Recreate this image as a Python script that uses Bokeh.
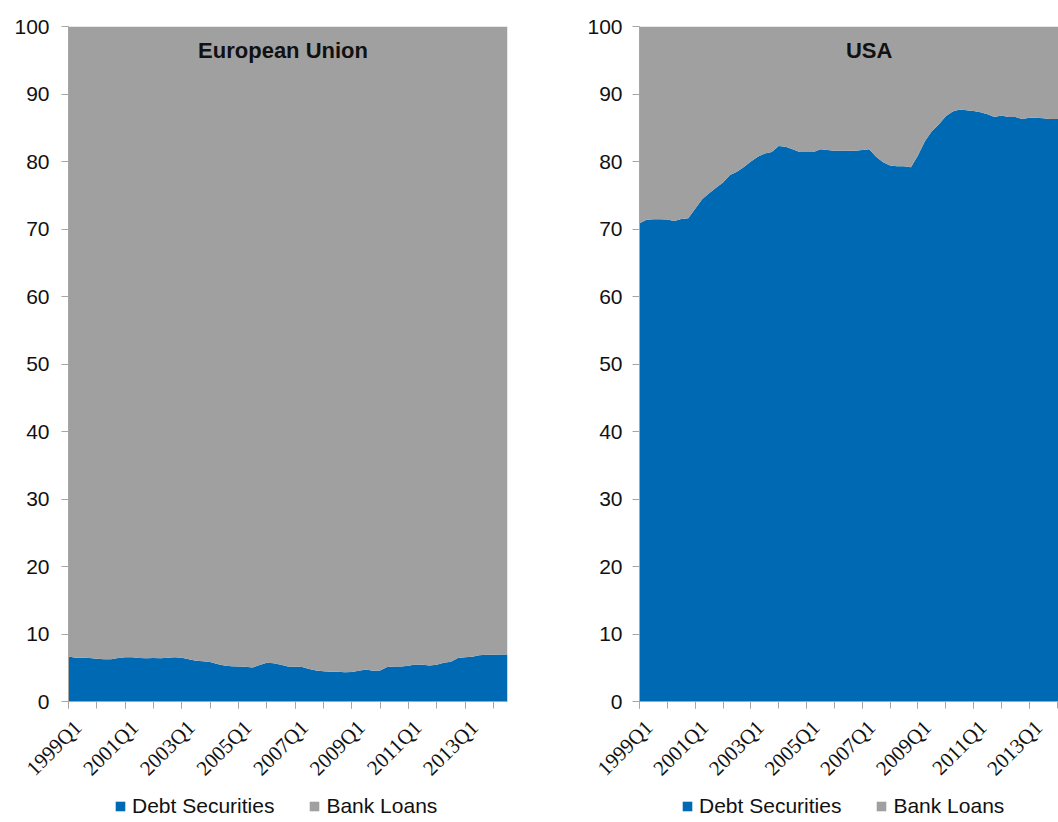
import math
from bokeh.plotting import figure
from bokeh.layouts import row, column
from bokeh.models import ColumnDataSource, FixedTicker, Label, Legend, LegendItem, Range1d
from bokeh.embed import file_html
from bokeh.resources import INLINE

# ---------------- data ----------------
quarters = [f"{y}Q{q}" for y in range(1999, 2015) for q in range(1, 5)][:63]  # 1999Q1 .. 2014Q3

eu_debt_securities = [
    6.67, 6.50, 6.47, 6.45, 6.35, 6.25, 6.27, 6.45, 6.57, 6.55,
    6.45, 6.42, 6.45, 6.42, 6.50, 6.57, 6.50, 6.25, 6.05, 5.95,
    5.85, 5.55, 5.35, 5.22, 5.20, 5.15, 5.04, 5.40, 5.73, 5.65,
    5.45, 5.20, 5.15, 5.12, 4.80, 4.60, 4.50, 4.42, 4.40, 4.35,
    4.37, 4.55, 4.75, 4.55, 4.60, 5.10, 5.20, 5.20, 5.30, 5.50,
    5.45, 5.33, 5.45, 5.73, 5.90, 6.45, 6.57, 6.62, 6.85, 6.93,
    6.93, 6.95, 6.96,
]
usa_debt_securities = [
    70.86, 71.36, 71.46, 71.45, 71.40, 71.20, 71.50, 71.60, 73.00, 74.40,
    75.30, 76.10, 76.90, 78.00, 78.50, 79.20, 80.00, 80.70, 81.20, 81.40,
    82.30, 82.20, 81.80, 81.40, 81.40, 81.40, 81.80, 81.70, 81.60, 81.60,
    81.60, 81.60, 81.70, 81.80, 80.70, 79.90, 79.40, 79.30, 79.30, 79.15,
    80.90, 83.00, 84.50, 85.50, 86.70, 87.40, 87.70, 87.60, 87.50, 87.30,
    87.00, 86.60, 86.80, 86.60, 86.60, 86.30, 86.50, 86.50, 86.40, 86.30,
    86.30, 86.30, 86.40,
]
eu_bank_loans = [100 - v for v in eu_debt_securities]
usa_bank_loans = [100 - v for v in usa_debt_securities]

tick_labels = ["1999Q1", "2001Q1", "2003Q1", "2005Q1", "2007Q1", "2009Q1", "2011Q1", "2013Q1"]
series_names = ["Debt Securities", "Bank Loans"]
titles = ["European Union", "USA"]

BLUE = "#0069B4"
GRAY = "#A0A0A0"
AXIS = "#A6A6A6"
TXT = "#111111"
FONT = "Liberation Sans"

TOP = 26          # frame top (page px)
FRAME_H = 675
BOTTOM_MAIN = 12  # space under the frame in the main figure (tick marks, "0" label)
PAGE_H = 822


def make_panel(title, debt, loans, x_end, frame_w, border_left, border_right,
               title_x, ylab_standoff, legend_x):
    idx = list(range(len(debt)))
    src = ColumnDataSource(dict(x=idx, debt=debt, loans=loans))
    p = figure(frame_width=frame_w, frame_height=FRAME_H, output_backend="svg",
               toolbar_location=None, x_range=Range1d(0, x_end), y_range=Range1d(0, 100),
               min_border_left=border_left, min_border_right=border_right,
               min_border_top=TOP, min_border_bottom=BOTTOM_MAIN)
    rs = p.varea_stack(["debt", "loans"], x="x", source=src, color=[BLUE, GRAY])
    p.xgrid.visible = False
    p.ygrid.visible = False
    p.outline_line_color = None
    p.background_fill_color = "white"
    p.border_fill_color = "white"

    label_pos = [quarters.index(t) for t in tick_labels]
    p.xaxis.ticker = FixedTicker(ticks=label_pos, minor_ticks=list(range(0, len(debt), 4)))
    p.xaxis.major_label_overrides = {i: "" for i in label_pos}
    p.xaxis.major_label_text_font_size = "0px"
    p.xaxis.major_label_standoff = 0
    p.yaxis.ticker = FixedTicker(ticks=list(range(0, 101, 10)), minor_ticks=[])
    for ax in (p.xaxis[0], p.yaxis[0]):
        ax.axis_line_color = AXIS
        ax.major_tick_line_color = AXIS
        ax.minor_tick_line_color = AXIS
        ax.major_tick_out = 7
        ax.major_tick_in = 0
        ax.minor_tick_out = 7
        ax.minor_tick_in = 0
    p.yaxis.major_label_text_font = FONT
    p.yaxis.major_label_text_font_size = "21px"
    p.yaxis.major_label_text_color = TXT
    p.yaxis.major_label_standoff = ylab_standoff

    p.add_layout(Label(x=title_x, y=96.4, text=title, text_align="center",
                       text_baseline="middle", text_font=FONT, text_font_size="22px",
                       text_font_style="bold", text_color=TXT))

    # strip under the chart: rotated category labels and the legend
    fig_w = border_left + frame_w + border_right
    scale = frame_w / x_end
    y_top = TOP + FRAME_H + BOTTOM_MAIN
    strip_h = PAGE_H - y_top
    q = figure(frame_width=fig_w, frame_height=strip_h, output_backend="svg",
               toolbar_location=None, x_axis_type=None, y_axis_type=None,
               x_range=Range1d(-border_left / scale, (frame_w + border_right) / scale),
               y_range=Range1d(PAGE_H, y_top),
               min_border_left=0, min_border_right=0, min_border_top=0, min_border_bottom=0)
    q.outline_line_color = None
    q.background_fill_color = "white"
    q.border_fill_color = "white"
    q.text(x=label_pos, y=[TOP + FRAME_H] * len(label_pos), text=tick_labels,
           angle=math.pi / 4, text_align="right", text_baseline="top",
           x_offset=1, y_offset=14,
           text_font=FONT, text_font_size="21px", text_color=TXT)
    # legend proxies (zero-height areas placed outside the visible strip)
    r_debt = q.varea(x=[0, 1], y1=[0, 0], y2=[0, 0], fill_color=BLUE)
    r_loans = q.varea(x=[0, 1], y1=[0, 0], y2=[0, 0], fill_color=GRAY)
    legend = Legend(items=[LegendItem(label=series_names[0], renderers=[r_debt]),
                           LegendItem(label=series_names[1], renderers=[r_loans])],
                    orientation="horizontal", location=(legend_x, 4),
                    label_text_font=FONT, label_text_font_size="21px",
                    label_text_color=TXT,
                    glyph_width=12, glyph_height=12, spacing=34, label_standoff=6,
                    border_line_color=None, background_fill_alpha=0,
                    padding=0, margin=0)
    q.add_layout(legend, "center")
    return p, q


p1, q1 = make_panel(titles[0], eu_debt_securities, eu_bank_loans, 62, 439, 68, 20, 30.3, 12, 114)
p2, q2 = make_panel(titles[1], usa_debt_securities, usa_bank_loans, 60.2, 419, 112, 0, 33.0, 10, 154)

layout = column(row(p1, p2), row(q1, q2))
open("out.html", "w").write(file_html(layout, INLINE))
